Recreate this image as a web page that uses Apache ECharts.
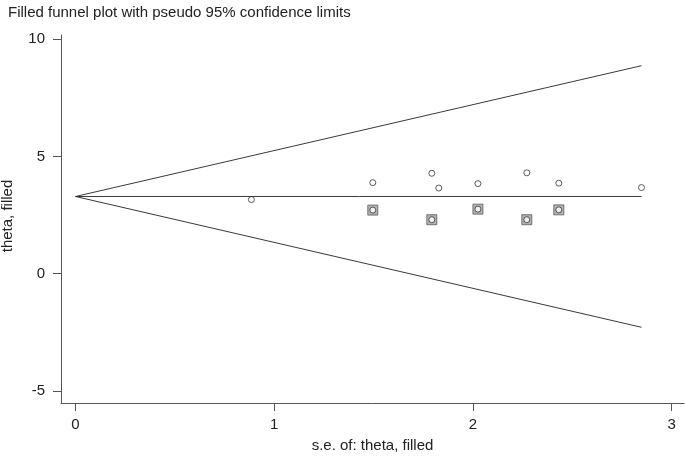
<!DOCTYPE html>
<html>
<head>
<meta charset="utf-8">
<script src="https://cdn.jsdelivr.net/npm/echarts@6/dist/echarts.min.js"></script>
<style>
html,body{margin:0;padding:0;background:#fff;}
#chart{width:685px;height:458px;}
</style>
</head>
<body>
<div id="chart"></div>
<script>
// Observed studies
var obsSE    = [0.885, 1.496, 1.793, 1.828, 2.025, 2.271, 2.432, 2.848];
var obsTheta = [3.16, 3.88, 4.28, 3.65, 3.84, 4.30, 3.86, 3.67];
// Filled (imputed) studies
var filledSE    = [1.496, 1.793, 2.025, 2.271, 2.432];
var filledTheta = [2.71, 2.30, 2.75, 2.30, 2.72];
// Pooled estimate and pseudo 95% limits (endpoints)
var lineSE   = [0, 2.848];
var pooled   = [3.29, 3.29];
var upperCI  = [3.29, 8.87];
var lowerCI  = [3.29, -2.29];
// Tick labels
var xTicks = [0, 1, 2, 3];
var yTicks = [-5, 0, 5, 10];

var FONT = "'Liberation Sans', Arial, Helvetica, sans-serif";
function pairs(xs, ys){ return xs.map(function(x,i){ return [x, ys[i]]; }); }

var chart = echarts.init(document.getElementById('chart'), null, {renderer:'canvas'});
chart.setOption({
  animation: false,
  backgroundColor: '#fff',
  title: {
    text: 'Filled funnel plot with pseudo 95% confidence limits',
    left: 3, top: 0,
    textStyle: {fontFamily: FONT, fontSize: 15, fontWeight: 'normal', color: '#222'}
  },
  grid: {left: 61, right: 1, top: 35, bottom: 51, containLabel: false},
  xAxis: {
    type: 'value', min: -0.073, max: 3.062,
    name: 's.e. of: theta, filled', nameLocation: 'middle', nameGap: 35,
    nameTextStyle: {fontFamily: FONT, fontSize: 15, color: '#222'},
    axisLine: {show: true, onZero: false, lineStyle: {color: '#555', width: 1}},
    axisTick: {show: true, length: 8, customValues: xTicks, lineStyle: {color: '#555'}},
    axisLabel: {customValues: xTicks, margin: 14, fontFamily: FONT, fontSize: 15, color: '#222'},
    splitLine: {show: false}
  },
  yAxis: {
    type: 'value', min: -5.52, max: 10.18,
    axisLine: {show: true, onZero: false, lineStyle: {color: '#555', width: 1}},
    axisTick: {show: true, length: 8, customValues: yTicks, lineStyle: {color: '#555'}},
    axisLabel: {customValues: yTicks, margin: 16, fontFamily: FONT, fontSize: 15, color: '#222'},
    splitLine: {show: false}
  },
  graphic: [{
    type: 'text', x: 8, y: 216, rotation: Math.PI/2,
    style: {text: 'theta, filled', fontFamily: FONT, fontSize: 15, fill: '#222', align: 'center', verticalAlign: 'middle'}
  }],
  series: [
    {type:'line', data: pairs(lineSE, upperCI), symbol:'none', lineStyle:{color:'#3a3a3a', width:1}, silent:true},
    {type:'line', data: pairs(lineSE, lowerCI), symbol:'none', lineStyle:{color:'#3a3a3a', width:1}, silent:true},
    {type:'line', data: pairs(lineSE, pooled), symbol:'none', lineStyle:{color:'#3a3a3a', width:1}, silent:true},
    {type:'scatter', data: pairs(filledSE, filledTheta), symbol:'rect', symbolSize: 10,
      itemStyle:{color:'#a0a0a0', borderColor:'#5a5a5a', borderWidth:1}},
    {type:'scatter', data: pairs(filledSE, filledTheta), symbol:'circle', symbolSize: 6,
      itemStyle:{color:'#fff', borderColor:'#333', borderWidth:1}},
    {type:'scatter', data: pairs(obsSE, obsTheta), symbol:'circle', symbolSize: 6,
      itemStyle:{color:'#fff', borderColor:'#333', borderWidth:1}}
  ]
});
</script>
</body>
</html>
